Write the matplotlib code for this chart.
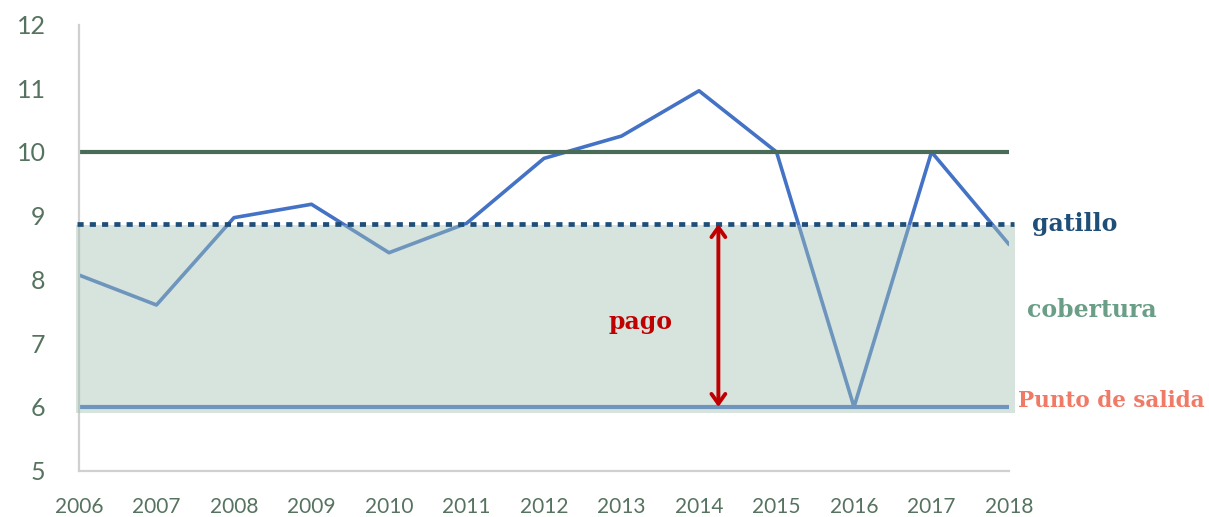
import matplotlib
matplotlib.use("Agg")
import matplotlib.pyplot as plt
from matplotlib.patches import FancyArrowPatch, Rectangle

years = [2006, 2007, 2008, 2009, 2010, 2011, 2012, 2013, 2014, 2015, 2016, 2017, 2018]
values = [8.07, 7.60, 8.97, 9.18, 8.42, 8.88, 9.90, 10.25, 10.96, 10.0, 6.0, 10.0, 8.55]
cap_level = 10.0
trigger = 8.87
exit_point = 6.0
yticks = [5, 6, 7, 8, 9, 10, 11, 12]

tick_color = "#56735f"
tick_font = ["Lato", "DejaVu Sans"]
serif = ["DejaVu Serif"]

fig = plt.figure(figsize=(12.09, 5.17), dpi=100)
ax = fig.add_axes([0.0653, 0.0895, 0.7693, 0.8631])

ax.plot(years, values, color="#4472c4", lw=2.6, zorder=2, solid_capstyle="round")
ax.plot([years[0], years[-1]], [cap_level, cap_level], color="#4a6b58", lw=3.0,
        solid_capstyle="round", zorder=2)
ax.plot([years[0], years[-1]], [exit_point, exit_point], color="#4472c4", lw=3.0,
        solid_capstyle="round", zorder=2)

# banda de cobertura, transparente sobre las lineas
ax.add_patch(Rectangle((2005.96, 5.91), 12.12, trigger - 0.02 - 5.91,
                       facecolor="#a4c2b4", alpha=0.44, edgecolor="none",
                       zorder=3, clip_on=False))
ax.plot([2005.97, 2018.06], [trigger, trigger], color="#1f4e79", lw=3.4,
        linestyle=(0, (1.3, 1.3)), dash_capstyle="butt", zorder=4, clip_on=False)

ax.add_patch(FancyArrowPatch((2014.25, trigger), (2014.25, exit_point),
                             arrowstyle="<->,head_length=7,head_width=5",
                             color="#c00000", lw=2.8, zorder=5,
                             shrinkA=0, shrinkB=0))

ax.text(2013.24, 7.33, "pago", color="#c00000", fontsize=17, fontweight="bold",
        family=serif, ha="center", va="center", zorder=6)
ax.text(2018.3, 8.87, "gatillo", color="#1f4e79", fontsize=17, fontweight="bold",
        family=serif, ha="left", va="center", clip_on=False)
ax.text(2018.23, 7.52, "cobertura", color="#6a9e86", fontsize=17, fontweight="bold",
        family=serif, ha="left", va="center", clip_on=False)
ax.text(2018.12, 6.1, "Punto de salida", color="#f07a66", fontsize=15.5, fontweight="bold",
        family=serif, ha="left", va="center", clip_on=False)

ax.set_xlim(2006, 2018)
ax.set_ylim(5, 12)
ax.set_xticks(years)
ax.set_xticklabels([str(y) for y in years])
ax.set_yticks(yticks)
ax.tick_params(length=0, labelcolor=tick_color)
ax.tick_params(axis="x", pad=19, labelsize=15)
ax.tick_params(axis="y", pad=24, labelsize=18)
for lab in ax.get_xticklabels() + ax.get_yticklabels():
    lab.set_family(tick_font)

for s in ["top", "right"]:
    ax.spines[s].set_visible(False)
for s in ["left", "bottom"]:
    ax.spines[s].set_color("#d0d0d0")
    ax.spines[s].set_linewidth(1.6)

fig.savefig("out.png", dpi=100)
